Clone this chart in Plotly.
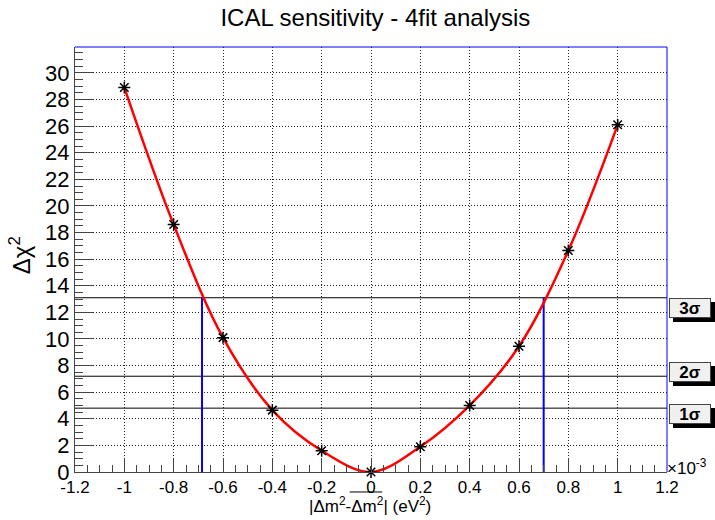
import plotly.graph_objects as go

# ---- data (x in units of 1e-3 eV^2) ----
dm2_diff = [-1.0, -0.8, -0.6, -0.4, -0.2, 0.0, 0.2, 0.4, 0.6, 0.8, 1.0]
delta_chi2 = [28.9, 18.6, 10.1, 4.65, 1.6, 0.0, 1.9, 5.0, 9.45, 16.65, 26.1]

sigma_labels = ["1σ", "2σ", "3σ"]
sigma_levels = [4.8, 7.2, 13.1]
crossing_x = [-0.685, 0.70]   # where the curve crosses the 3σ level

x_tickvals = [-1.2, -1.0, -0.8, -0.6, -0.4, -0.2, 0.0, 0.2, 0.4, 0.6, 0.8, 1.0, 1.2]
x_ticktext = ["-1.2", "-1", "-0.8", "-0.6", "-0.4", "-0.2", "0", "0.2", "0.4", "0.6", "0.8", "1", "1.2"]
y_tickvals = list(range(0, 31, 2))

FONT = "Liberation Sans, Arial, Helvetica, sans-serif"
XR = [-1.2, 1.2]
YR = [0, 31.95]

fig = go.Figure()

# sigma horizontal lines
for lvl in sigma_levels:
    fig.add_trace(go.Scatter(x=XR, y=[lvl, lvl], mode="lines",
                             line=dict(color="black", width=1), cliponaxis=False,
                             hoverinfo="skip", showlegend=False))

# blue vertical lines at 3σ crossing
for cx in crossing_x:
    fig.add_trace(go.Scatter(x=[cx, cx], y=[0, sigma_levels[2]], mode="lines",
                             line=dict(color="#0000ff", width=2),
                             hoverinfo="skip", showlegend=False))

# red smooth curve
fig.add_trace(go.Scatter(x=dm2_diff, y=delta_chi2, mode="lines",
                         line=dict(color="#ff0000", width=2.5, shape="spline", smoothing=1.0),
                         cliponaxis=False, showlegend=False))
# markers
fig.add_trace(go.Scatter(x=dm2_diff, y=delta_chi2, mode="markers",
                         marker=dict(symbol="asterisk-open", size=10, color="black",
                                     line=dict(color="black", width=1.5)),
                         cliponaxis=False, showlegend=False))

# label boxes for sigma levels
box_shift = {"1σ": -6, "2σ": 4, "3σ": -10}
for lab, lvl in zip(sigma_labels, sigma_levels):
    ys = box_shift[lab]
    # shadow
    fig.add_annotation(xref="paper", yref="y", x=1.0035, y=lvl, xanchor="left",
                       text=" ", showarrow=False, width=38, height=16,
                       bgcolor="black", bordercolor="black", borderwidth=1, borderpad=1,
                       font=dict(family=FONT, size=16, color="black"),
                       xshift=4, yshift=ys - 4)
    fig.add_annotation(xref="paper", yref="y", x=1.0035, y=lvl, xanchor="left",
                       text="<b>" + lab + "</b>", showarrow=False, width=38, height=16,
                       bgcolor="#f0f0f0", bordercolor="#444", borderwidth=1, borderpad=1,
                       font=dict(family=FONT, size=17, color="black"),
                       yshift=ys)

# axis titles and exponent
fig.add_annotation(xref="paper", yref="paper", x=0.5, y=0, yanchor="top", yshift=-20,
                   text="|Δm<sup>2</sup>-Δm<sup>2</sup>| (eV<sup>2</sup>)", showarrow=False,
                   font=dict(family=FONT, size=17, color="black"), xshift=-1)
fig.add_shape(type="line", xref="paper", yref="paper", x0=0.464, x1=0.519,
              y0=-0.047, y1=-0.047, line=dict(color="black", width=1))
fig.add_annotation(xref="paper", yref="paper", x=1.0, y=0, xanchor="left", yanchor="bottom",
                   text="×10<sup>-3</sup>", showarrow=False, yshift=-8, xshift=-2,
                   font=dict(family=FONT, size=17, color="black"))
fig.add_annotation(xref="paper", yref="paper", x=0, y=0.51, xanchor="right", xshift=-38,
                   text="Δχ<sup>2</sup>", textangle=-90, showarrow=False,
                   font=dict(family=FONT, size=24, color="black"))

# frame: blue top and right
fig.add_shape(type="line", xref="paper", yref="paper", x0=0, x1=1, y0=1, y1=1,
              line=dict(color="#0000ff", width=1))
fig.add_shape(type="line", xref="paper", yref="paper", x0=1, x1=1, y0=0, y1=1,
              line=dict(color="#0000ff", width=1))

fig.update_layout(
    width=715, height=520,
    margin=dict(l=75, r=48, t=47, b=48),
    paper_bgcolor="white", plot_bgcolor="white",
    title=dict(text="ICAL sensitivity - 4fit analysis", x=0.525, xanchor="center",
               y=0.967, yanchor="middle",
               font=dict(family=FONT, size=24, color="black")),
    xaxis=dict(range=XR, tickvals=x_tickvals, ticktext=x_ticktext,
               ticks="inside", ticklen=14, tickcolor="#444", tickwidth=1,
               showline=True, linecolor="#444", linewidth=1,
               showgrid=True, gridcolor="#222", griddash="1px,2px", gridwidth=1,
               zeroline=False,
               minor=dict(ticks="inside", ticklen=7, dtick=0.05, tickcolor="#444", showgrid=False),
               tickfont=dict(family=FONT, size=17, color="black")),
    yaxis=dict(range=YR, tickvals=y_tickvals,
               ticks="inside", ticklen=18, tickcolor="#444", tickwidth=1,
               showline=True, linecolor="#444", linewidth=1,
               showgrid=True, gridcolor="#222", griddash="1px,2px", gridwidth=1,
               zeroline=False,
               minor=dict(ticks="inside", ticklen=8, dtick=0.5, tickcolor="#444", showgrid=False),
               tickfont=dict(family=FONT, size=22, color="black")),
)

fig.write_html("out.html", config={"displayModeBar": False},
               post_script="document.body.style.margin='0';")
